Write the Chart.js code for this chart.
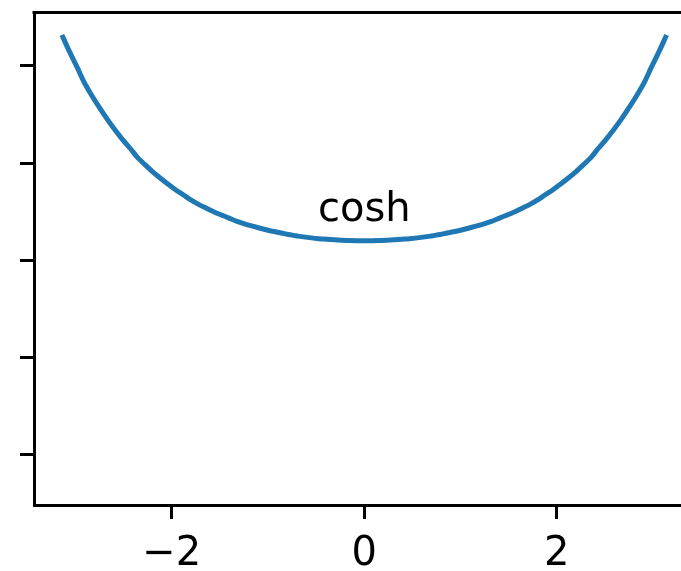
<!DOCTYPE html>
<html>
<head>
<meta charset="utf-8">
<title>cosh</title>
<script src="https://cdn.jsdelivr.net/npm/chart.js@4/dist/chart.umd.min.js"></script>
<style>
  html, body { margin: 0; padding: 0; background: #fff; overflow: hidden; }
  canvas { display: block; }
</style>
</head>
<body>
<canvas id="plot" width="710" height="593" style="width:710px;height:593px"></canvas>
<script>
// sampled curve, x from -pi to pi in steps of pi/40
const xs = [-3.14, -3.06, -2.98, -2.91, -2.83, -2.75, -2.67, -2.59, -2.51, -2.43,
            -2.36, -2.28, -2.20, -2.12, -2.04, -1.96, -1.88, -1.81, -1.73, -1.65,
            -1.57, -1.49, -1.41, -1.34, -1.26, -1.18, -1.10, -1.02, -0.94, -0.86,
            -0.79, -0.71, -0.63, -0.55, -0.47, -0.39, -0.31, -0.24, -0.16, -0.08, 0,
             0.08, 0.16, 0.24, 0.31, 0.39, 0.47, 0.55, 0.63, 0.71, 0.79,
             0.86, 0.94, 1.02, 1.10, 1.18, 1.26, 1.34, 1.41, 1.49, 1.57,
             1.65, 1.73, 1.81, 1.88, 1.96, 2.04, 2.12, 2.20, 2.28, 2.36,
             2.43, 2.51, 2.59, 2.67, 2.75, 2.83, 2.91, 2.98, 3.06, 3.14];
const coshVals = [11.59, 10.72, 9.91, 9.17, 8.48, 7.85, 7.26, 6.71, 6.21, 5.75,
                  5.32, 4.93, 4.56, 4.23, 3.92, 3.63, 3.37, 3.13, 2.90, 2.70,
                  2.51, 2.34, 2.18, 2.03, 1.90, 1.78, 1.67, 1.57, 1.48, 1.40,
                  1.32, 1.26, 1.20, 1.15, 1.11, 1.08, 1.05, 1.03, 1.01, 1.00, 1.00,
                  1.00, 1.01, 1.03, 1.05, 1.08, 1.11, 1.15, 1.20, 1.26, 1.32,
                  1.40, 1.48, 1.57, 1.67, 1.78, 1.90, 2.03, 2.18, 2.34, 2.51,
                  2.70, 2.90, 3.13, 3.37, 3.63, 3.92, 4.23, 4.56, 4.93, 5.32,
                  5.75, 6.21, 6.71, 7.26, 7.85, 8.48, 9.17, 9.91, 10.72, 11.59];
const xTicks = [-2, 0, 2];
const yTicks = [-10, -5, 0, 5, 10];
const label = { text: "cosh", x: 0, y: 2 };

const FONT = "'DejaVu Sans', sans-serif";

// top spine + text label
const extras = {
  id: "extras",
  afterDraw(chart) {
    const { ctx, chartArea, scales } = chart;
    ctx.save();
    ctx.strokeStyle = "#000";
    ctx.lineWidth = 3;
    ctx.beginPath();
    ctx.moveTo(chartArea.left - 1.5, chartArea.top);
    ctx.lineTo(chartArea.right, chartArea.top);
    ctx.stroke();

    ctx.fillStyle = "#000";
    ctx.font = "40px " + FONT;
    ctx.textAlign = "center";
    ctx.textBaseline = "alphabetic";
    ctx.fillText(label.text, scales.x.getPixelForValue(label.x), scales.y.getPixelForValue(label.y));
    ctx.restore();
  }
};

new Chart(document.getElementById("plot"), {
  type: "line",
  data: {
    datasets: [{
      data: xs.map((x, i) => ({ x: x, y: coshVals[i] })),
      borderColor: "#1f77b4",
      borderWidth: 5,
      borderCapStyle: "butt",
      pointRadius: 0,
      tension: 0.3,
      fill: false
    }]
  },
  options: {
    responsive: false,
    animation: false,
    devicePixelRatio: 1,
    layout: { padding: { left: 20, right: 15.5, top: 12.5, bottom: 2 } },
    plugins: { legend: { display: false }, tooltip: { enabled: false } },
    scales: {
      x: {
        type: "linear",
        min: -3.43,
        max: 3.43,
        afterBuildTicks: (axis) => { axis.ticks = xTicks.map(v => ({ value: v })); },
        ticks: {
          color: "#000",
          font: { family: FONT, size: 40 },
          padding: 12,
          maxRotation: 0,
          callback: (v) => (v < 0 ? "\u2212" + Math.abs(v) : String(v))
        },
        grid: { drawOnChartArea: false, tickLength: 14, tickWidth: 3, tickColor: "#000" },
        border: { color: "#000", width: 3 }
      },
      y: {
        type: "linear",
        min: -12.6,
        max: 12.75,
        afterBuildTicks: (axis) => { axis.ticks = yTicks.map(v => ({ value: v })); },
        ticks: { display: false },
        grid: { drawOnChartArea: false, tickLength: 14, tickWidth: 3, tickColor: "#000" },
        border: { color: "#000", width: 3 }
      }
    }
  },
  plugins: [extras]
});
</script>
</body>
</html>
